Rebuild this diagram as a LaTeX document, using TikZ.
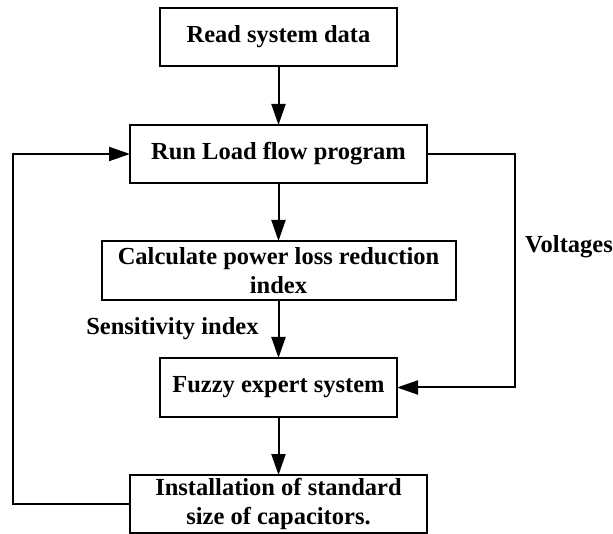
\documentclass[tikz,border=0pt]{standalone}
\usepackage{fontspec}
\setmainfont{Liberation Serif}
\usepackage{tikz}
\usetikzlibrary{arrows.meta}

\tikzset{
  blk/.style={draw,line width=2pt,align=center,inner sep=0pt,outer sep=0pt,
    font=\fontsize{24.5}{29}\selectfont\bfseries},
  arr/.style={line width=2pt,-{Triangle[length=21pt,width=14pt]}},
  lbl/.style={font=\fontsize{24.5}{29}\selectfont\bfseries,inner sep=0pt}
}

\begin{document}
\begin{tikzpicture}[x=1pt,y=-1pt]
                      \useasboundingbox (0,0) rectangle (613,534);
                      \node[blk,minimum width=237pt,minimum height=58pt](rd)at(278.5,37){Read system data};
                      \node[blk,minimum width=297pt,minimum height=58pt](lf)at(278.5,154){Run Load flow program};
                      \node[blk,minimum width=354pt,minimum height=59pt](pl)at(278.5,270.5){Calculate power loss reduction\\index};
                      \node[blk,minimum width=237pt,minimum height=59pt](fz)at(278.5,387.5){Fuzzy expert system};
                      \node[blk,minimum width=297pt,minimum height=58pt](cap)at(278.5,504){Installation of standard\\size of capacitors.};
                      \draw[arr](rd)--(lf);
                      \draw[arr](lf)--(pl);
                      \draw[arr](pl)--node[lbl,left=19pt,pos=0.5]{Sensitivity index}(fz);
                      \draw[arr](fz)--(cap);
                      \coordinate(rc)at(515,154);
                      \draw[arr](lf.east)--(rc)|-(fz.east);
                      \node[lbl,anchor=east](v)at(613,247){Voltages};
                      \coordinate(lc)at(13,504);
                      \draw[arr](cap.west)--(lc)|-(lf.west);
                  \end{tikzpicture}
\end{document}
